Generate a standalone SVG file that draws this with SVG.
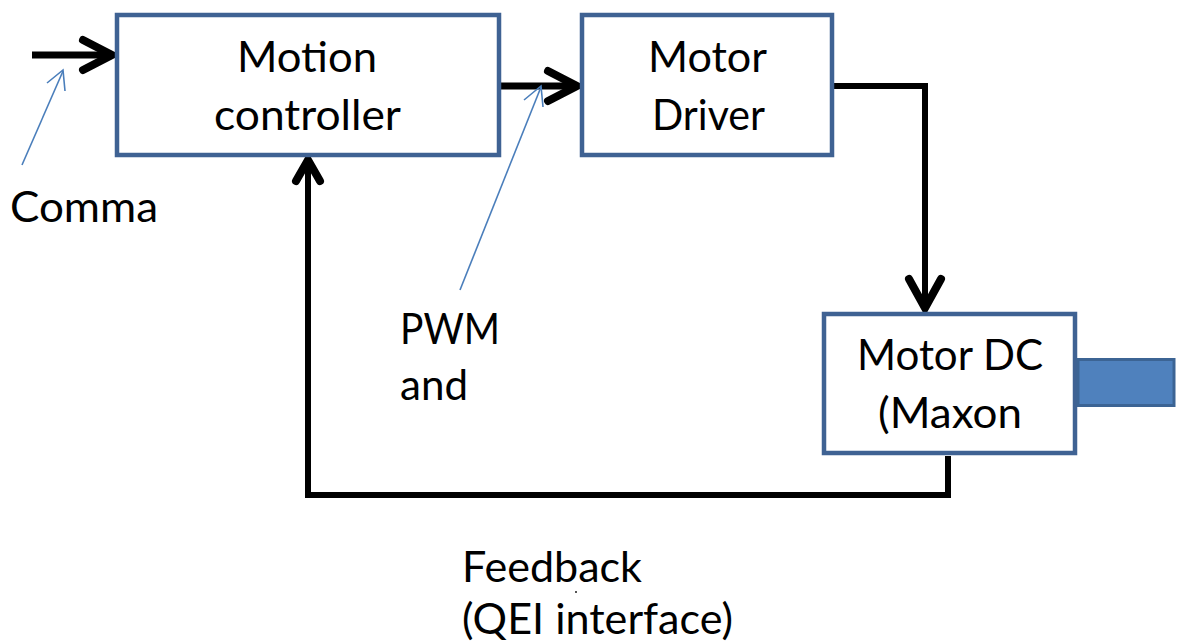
<svg xmlns="http://www.w3.org/2000/svg" width="1179" height="644" viewBox="0 0 1179 644">
<style>
.box{fill:#ffffff;stroke:#3f6293;stroke-width:4.5}
.wire{fill:none;stroke:#000;stroke-width:6;stroke-linejoin:miter}
.head{fill:none;stroke:#000;stroke-width:8;stroke-linecap:round;stroke-linejoin:miter}
.note{fill:none;stroke:#4a7ebb;stroke-width:1.6}
text{font-family:Lato,"Open Sans","Liberation Sans",sans-serif;font-size:42px;fill:#000}
</style>
<rect width="1179" height="644" fill="#fff"/>
<g id="connectors">
  <line class="wire" x1="32" y1="55" x2="110" y2="55" style="stroke-width:7"/>
  <polyline class="head" points="83,40 112,55 83,70"/>
  <line class="wire" x1="501" y1="86" x2="575" y2="86" style="stroke-width:7"/>
  <polyline class="head" points="548,71 577,86 548,101"/>
  <polyline class="wire" points="834,86 925,86 925,305"/>
  <polyline class="head" points="909,279 925,308 941,279"/>
  <polyline class="wire" points="948,456 948,495 308,495 308,163"/>
  <polyline class="head" points="296,181 308,160 320,181"/>
  <line class="note" x1="22" y1="165" x2="63" y2="71"/>
  <polyline class="note" points="47,83 63,70 65,91"/>
  <line class="note" x1="460" y1="290" x2="541" y2="87"/>
  <polyline class="note" points="524,100 541,86 543,107"/>
</g>
<g id="motion-controller">
  <rect class="box" x="117" y="15" width="382" height="140"/>
  <text x="237" y="72" textLength="140" lengthAdjust="spacingAndGlyphs">Motion</text>
  <text x="214" y="130" textLength="187" lengthAdjust="spacingAndGlyphs">controller</text>
</g>
<g id="motor-driver">
  <rect class="box" x="582" y="15" width="250" height="140"/>
  <text x="648" y="72" textLength="119" lengthAdjust="spacingAndGlyphs">Motor</text>
  <text x="652" y="130" textLength="113" lengthAdjust="spacingAndGlyphs">Driver</text>
</g>
<g id="motor-dc">
  <rect class="box" x="824" y="314" width="251" height="139"/>
  <text x="857" y="370" textLength="186" lengthAdjust="spacingAndGlyphs">Motor DC</text>
  <text x="878" y="428" textLength="144" lengthAdjust="spacingAndGlyphs">(Maxon</text>
  <rect x="1078" y="359.5" width="96" height="46" fill="#4f81bd" stroke="#3c6494" stroke-width="3"/>
</g>
<g id="labels">
  <text x="10" y="222" textLength="148" lengthAdjust="spacingAndGlyphs">Comma</text>
  <text x="400" y="344" textLength="100" lengthAdjust="spacingAndGlyphs">PWM</text>
  <text x="400" y="400" textLength="68" lengthAdjust="spacingAndGlyphs">and</text>
  <text x="462" y="582" textLength="180" lengthAdjust="spacingAndGlyphs">Feedback</text>
  <text x="462" y="634" textLength="271" lengthAdjust="spacingAndGlyphs">(QEI interface)</text>
  <rect x="575" y="591" width="2" height="2" fill="#555"/>
</g>
</svg>
